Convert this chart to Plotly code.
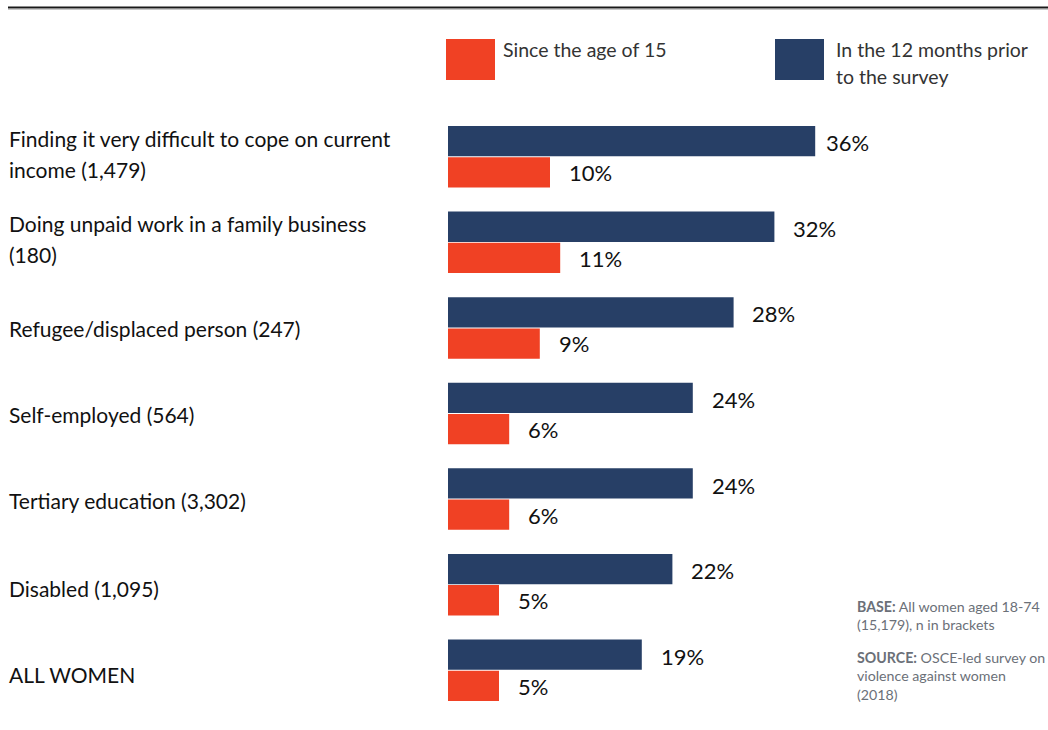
import plotly.graph_objects as go

# ---------------- data ----------------
categories = [
    "Finding it very difficult to cope on current<br>income (1,479)",
    "Doing unpaid work in a family business<br>(180)",
    "Refugee/displaced person (247)",
    "Self-employed (564)",
    "Tertiary education (3,302)",
    "Disabled (1,095)",
    "ALL WOMEN",
]
last_12_months = [36, 32, 28, 24, 24, 22, 19]
since_age_15 = [10, 11, 9, 6, 6, 5, 5]
series_names = ["In the 12 months prior<br>to the survey", "Since the age of 15"]
base_note = "<b>BASE:</b> All women aged 18-74<br>(15,179), n in brackets"
source_note = "<b>SOURCE:</b> OSCE-led survey on<br>violence against women<br>(2018)"

# ---------------- style ----------------
W, H = 1048, 730
L, R, T, B = 448, 192, 114, 17
PW, PH = W - L - R, H - T - B
BLUE = "#273f66"
ORANGE = "#f04124"
FONT = "Lato"
XMAX = 40.0


def px(xp):
    return (xp - L) / PW


def py(yp):
    return 1 - (yp - T) / PH


fig = go.Figure()
fig.add_trace(go.Bar(
    y=categories, x=last_12_months, orientation="h", name=series_names[0],
    marker=dict(color=BLUE, line=dict(width=0)), showlegend=False,
    hoverinfo="x+y",
))
fig.add_trace(go.Bar(
    y=categories, x=since_age_15, orientation="h", name=series_names[1],
    marker=dict(color=ORANGE, line=dict(width=0)), showlegend=False,
    hoverinfo="x+y",
))

annotations = []
shapes = []

# category labels (left aligned, split lines with wider spacing)
for k, cat in enumerate(categories):
    lines = cat.split("<br>")
    n = len(lines)
    drift = 3 if k >= 5 else 0
    for i, ln in enumerate(lines):
        off = (i - (n - 1) / 2) * 31 - (3 if n > 1 else -1) + drift
        annotations.append(dict(
            xref="paper", yref="y", x=px(7), y=cat, xanchor="left",
            yanchor="middle", text=ln, showarrow=False, yshift=-off,
            font=dict(family=FONT, size=21, color="#111111"),
        ))

# value labels
GAP = 1.65
label_cap = (868 - 44 - L) / PW * XMAX
for vals, shift in ((last_12_months, -14), (since_age_15, 16)):
    for cat, v in zip(categories, vals):
        annotations.append(dict(
            xref="x", yref="y", x=min(v + GAP, label_cap), y=cat,
            xanchor="left", yanchor="middle", text=f"{v}%",
            showarrow=False, yshift=-shift,
            font=dict(family=FONT, size=22, color="#111111"),
        ))

# legend
legend_items = [
    (ORANGE, 446, 495, 501, series_names[1]),
    (BLUE, 775, 824, 834, series_names[0]),
]
for color, x0, x1, tx, name in legend_items:
    shapes.append(dict(type="rect", xref="paper", yref="paper",
                       x0=px(x0), x1=px(x1), y0=py(80), y1=py(39),
                       fillcolor=color, line=dict(width=0)))
    for i, ln in enumerate(name.split("<br>")):
        annotations.append(dict(
            xref="paper", yref="paper", x=px(tx), y=py(49.5 + 27 * i),
            xanchor="left", yanchor="middle", text=ln, showarrow=False,
            font=dict(family=FONT, size=19.5, color="#333333"),
        ))

# notes
for txt, yc in ((base_note, 615.5), (source_note, 675.5)):
    annotations.append(dict(
        xref="paper", yref="paper", x=px(855), y=py(yc),
        xanchor="left", yanchor="middle", align="left", text=txt,
        showarrow=False,
        font=dict(family=FONT, size=14.2, color="#6b7078"),
    ))

# top rule
shapes.append(dict(type="line", xref="paper", yref="paper",
                   x0=px(8), x1=px(1048), y0=py(7.5), y1=py(7.5),
                   line=dict(color="#1a1a1a", width=2)))
shapes.append(dict(type="line", xref="paper", yref="paper",
                   x0=px(8), x1=px(1048), y0=py(9.5), y1=py(9.5),
                   line=dict(color="#c8c8c8", width=1)))

fig.update_layout(
    width=W, height=H,
    margin=dict(l=L, r=R, t=T, b=B, pad=0),
    paper_bgcolor="white", plot_bgcolor="white",
    barmode="group", bargap=0.27, bargroupgap=0.03,
    xaxis=dict(range=[0, XMAX], visible=False, fixedrange=True),
    yaxis=dict(autorange="reversed", visible=False, fixedrange=True,
               categoryorder="array", categoryarray=categories),
    annotations=annotations, shapes=shapes,
    font=dict(family=FONT),
)

fig.write_html(
    "out.html",
    config={"displayModeBar": False},
    post_script="document.body.style.margin='0';document.body.style.overflow='hidden';",
)
